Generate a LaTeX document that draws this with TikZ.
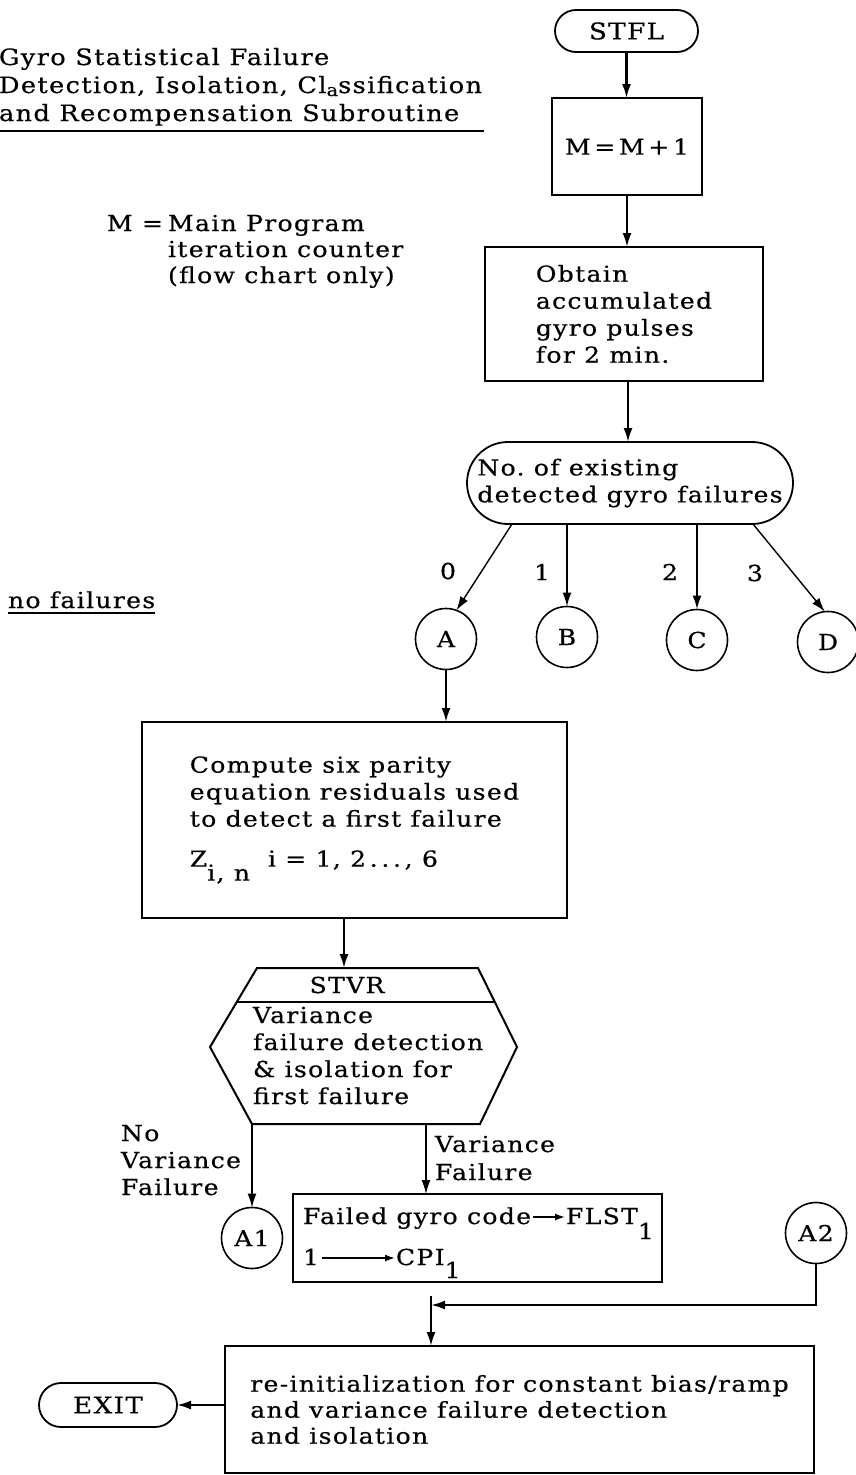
\documentclass[tikz,border=0pt]{standalone}
\usepackage{fontspec}
\setmainfont{DejaVu Serif}[LetterSpace=6, FakeStretch=1.14, FakeBold=0.5]
\usetikzlibrary{arrows.meta,shapes.misc}
% left-aligned block whose base is the first line's baseline
\newcommand\lns[1]{\begin{tabular}[t]{@{}l@{}}#1\end{tabular}}
\begin{document}
\begin{tikzpicture}[x=1pt,y=-1pt,
  every node/.style={inner sep=0pt, outer sep=0pt, font=\fontsize{22}{27}\selectfont},
  box/.style={draw, line width=2pt, rectangle, align=left},
  term/.style={draw, line width=1.8pt, rounded rectangle, align=center, font=\fontsize{23}{27}\selectfont},
  conn/.style={draw, circle, line width=1.6pt, minimum size=61pt},
  flow/.style={line width=2.2pt, -{Latex[length=14pt,width=9pt]}},
  thin flow/.style={line width=1.4pt, -{Latex[length=14pt,width=9pt]}},
  text arrow/.style={line width=1.5pt, -{Latex[length=10pt,width=7pt]}},
  txt/.style={anchor=base west, align=left},
]
\useasboundingbox (0,0) rectangle (856,1475);

% heading and notes
\node[txt, font=\fontsize{22.5}{28}\selectfont] (title) at (-1,65)
  {\lns{Gyro Statistical Failure\\Detection, Isolation, Cl{\fontsize{17}{20}\selectfont\raisebox{-3pt}{a}}ssification\\and Recompensation Subroutine}};
\draw[line width=1.4pt] (0,131) -- (484,131);
\node[txt] (mdef) at (107,231) {M =};
\node[txt, font=\fontsize{22}{26}\selectfont] (mnote) at (168,231) {\lns{Main Program\\iteration counter\\(flow chart only)}};
\node[txt] (nofail) at (8,608) {no failures};
\draw[line width=1.3pt] (8,613) -- (155,613);

% main column
\node[term, minimum width=143pt, minimum height=42pt] (stfl) at (626.5,31) {STFL};
\node[box, minimum width=150pt, minimum height=97pt, font=\fontsize{22}{27}\selectfont] (inc) at (627,146.5)
  {\addfontfeature{LetterSpace=0}M\,=\,M\,+\,1};
\node[box, minimum width=278pt, minimum height=134pt] (obtain) at (624,314)
  {Obtain\\accumulated\\gyro pulses\\for 2 min.};
\node[term, align=left, font=\fontsize{22}{27}\selectfont, minimum width=326pt, minimum height=82pt] (count) at (630,483)
  {No.\ of existing\\detected gyro failures};

% branch connectors
\node[conn] (A) at (446,639) {A};
\node[conn] (B) at (567,637) {B};
\node[conn] (C) at (697,640) {C};
\node[conn] (D) at (828,642) {D};
\node (l0) at (448,571) {0};
\node (l1) at (542,572) {1};
\node (l2) at (670,572) {2};
\node (l3) at (755,573) {3};

% parity residuals
\node[box, minimum width=425pt, minimum height=196pt] (compute) at (354.5,820)
  {Compute six parity\\equation residuals used\\to detect a first failure\\[13pt]Z\raisebox{-14pt}{i, n}\hspace{18pt}i = 1, 2\,.\,.\,.\,, 6};

% STVR subroutine block
\coordinate (hT) at (344,968);
\coordinate (hbl) at (252,1124);
\coordinate (hbr) at (426,1124);
\draw[line width=2pt, line join=miter] (257,968) -- (478,968) -- (517,1047) -- (480,1124) -- (252,1124) -- (210,1047) -- cycle;
\draw[line width=1.5pt] (237,1002) -- (495,1002);
\node[anchor=base] (stvr) at (347,993) {STVR};
\node[txt] (vartext) at (253,1023) {\lns{Variance\\failure detection\\\& isolation for\\first failure}};

\node[txt] (nvf) at (121,1141) {\lns{No\\Variance\\Failure}};
\node[txt, font=\fontsize{22}{28}\selectfont] (vf) at (435,1152) {\lns{Variance\\Failure}};

% variance failure bookkeeping
\node[conn] (A1) at (252,1238) {A1};
\node[box, minimum width=369pt, minimum height=88pt] (failed) at (477.5,1238) {};
\node[txt] (fgc) at (303,1224) {Failed gyro code};
\node[txt] (flst) at (566,1224) {FLST\raisebox{-15pt}{1}};
\node[txt] (one) at (303,1265) {1};
\node[txt] (cpi) at (396,1265) {CPI\raisebox{-13pt}{1}};
\draw[text arrow] ([xshift=2pt,yshift=7pt]fgc.base east) -- ([xshift=-1pt,yshift=7pt]flst.base west);
\draw[text arrow] ([xshift=3pt,yshift=7pt]one.base east) -- ([xshift=-1pt,yshift=7pt]cpi.base west);

\node[conn] (A2) at (816,1233) {A2};
\coordinate (join) at (431,1305);
\coordinate (stub) at (431,1296);

\node[box, minimum width=589pt, minimum height=127pt, font=\fontsize{22}{26}\selectfont] (final) at (519.5,1409.5)
  {re-initialization for constant bias/ramp\\and variance failure detection\\and isolation};
\node[term, minimum width=138pt, minimum height=44pt] (exit) at (108,1405) {EXIT};

% flow lines
\draw[flow] (stfl.south) -- (stfl.south |- inc.north);
\draw[flow] (inc.south) -- (inc.south |- obtain.north);
\draw[flow] ([xshift=4pt]obtain.south) -- ([xshift=4pt]obtain.south |- count.north);
\draw[thin flow] ([xshift=-118pt]count.south) -- (A.70);
\draw[flow, line width=1.7pt] ([xshift=-63pt]count.south) -- (B);
\draw[flow] ([xshift=67pt]count.south) -- (C);
\draw[thin flow] ([xshift=123pt]count.south) -- (D.96);
\draw[flow] (A) -- (A |- compute.north);
\draw[flow] ([xshift=-10.5pt]compute.south) -- (hT);
\draw[thin flow] (hbl) -- (A1);
\draw[thin flow] (hbr) -- (hbr |- failed.north);
\draw[flow] (A2) |- (join);
\draw[flow] (stub) -- (stub |- final.north);
\draw[flow] (final.west |- exit.east) -- (exit.east);
\end{tikzpicture}
\end{document}
